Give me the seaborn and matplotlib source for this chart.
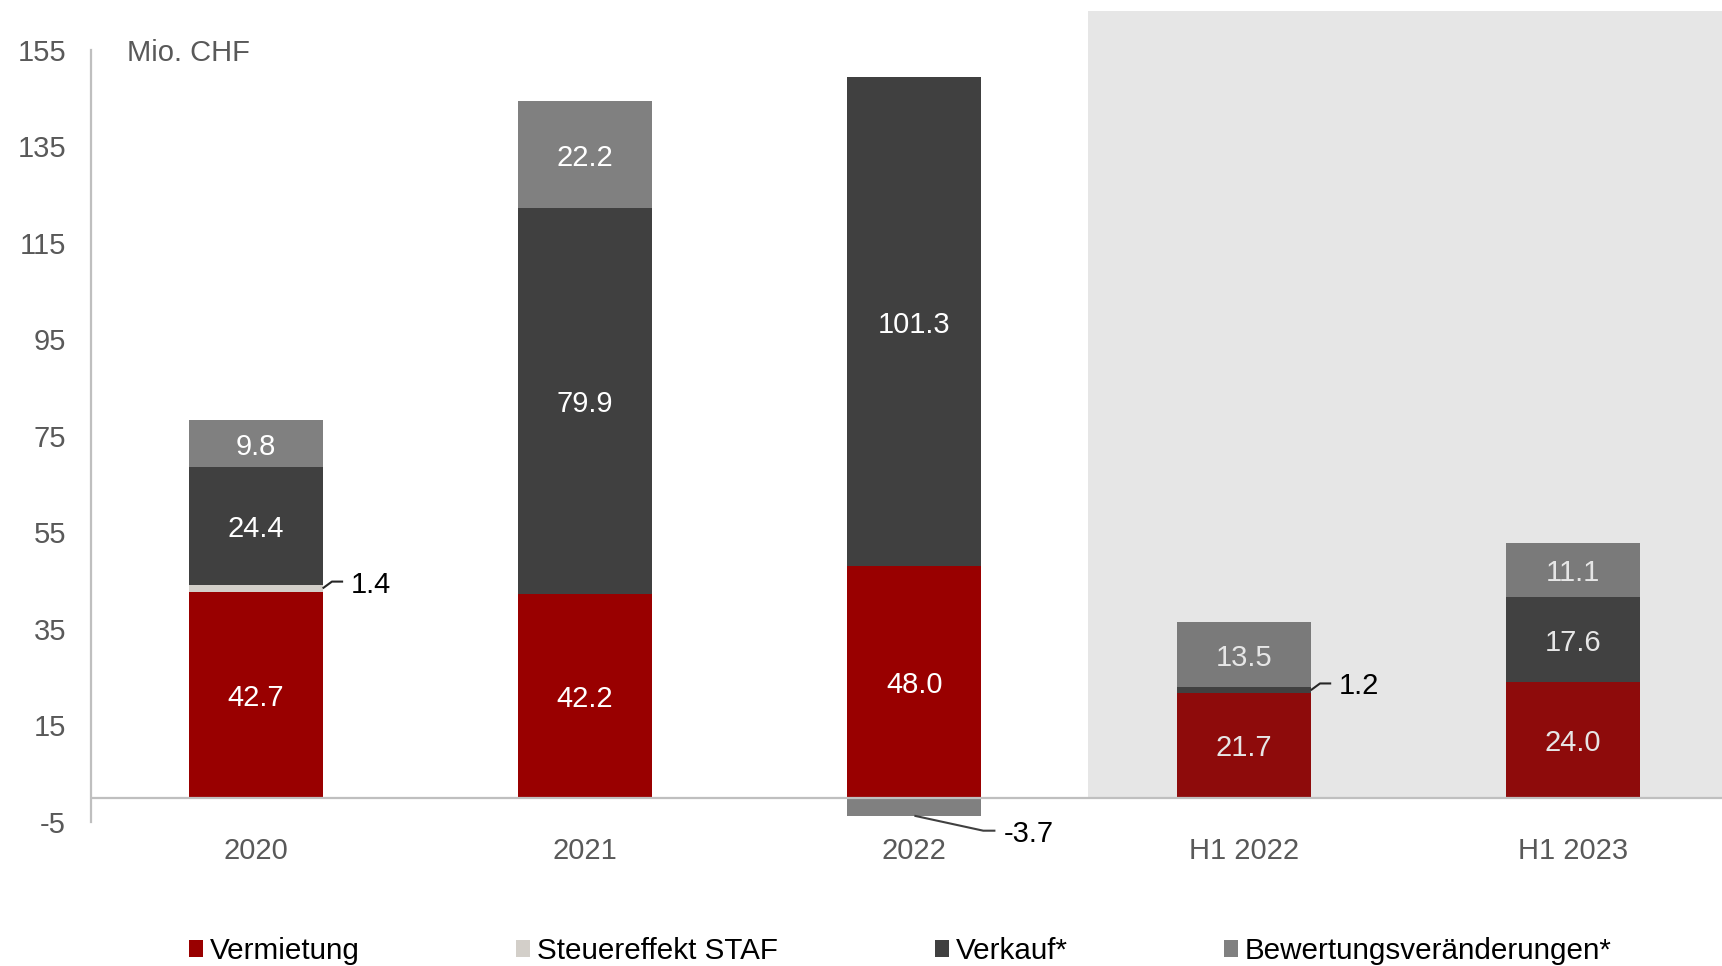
import numpy as np
import pandas as pd
import matplotlib
matplotlib.use("Agg")
import matplotlib.pyplot as plt
from matplotlib.patches import Patch, Rectangle
import seaborn as sns

# ---- data ----
categories = ["2020", "2021", "2022", "H1 2022", "H1 2023"]
vermietung = [42.7, 42.2, 48.0, 21.7, 24.0]
steuereffekt = [1.4, 0.0, 0.0, 0.0, 0.0]
verkauf = [24.4, 79.9, 101.3, 1.2, 17.6]
bewertung = [9.8, 22.2, -3.7, 13.5, 11.1]

layer_names = ["Vermietung", "Steuereffekt STAF", "Verkauf*", "Bewertungsveränderungen*"]
layer_values = [vermietung, steuereffekt, verkauf, bewertung]

y_ticks = [-5, 15, 35, 55, 75, 95, 115, 135, 155]
half_year = ["H1 2022", "H1 2023"]

# colours: full-year bars, half-year bars (on shaded panel)
colors_year = ["#990000", "#D3CFC9", "#404040", "#808080"]
colors_half = ["#8E0B0B", "#CFCBC5", "#414141", "#7A7A7A"]
label_year = "#FFFFFF"
label_half = "#E6E6E6"
axis_grey = "#BFBFBF"
text_grey = "#595959"
FS = 21

sns.set_theme(style="white")
plt.rcParams["font.family"] = ["Liberation Sans", "DejaVu Sans"]

fig = plt.figure(figsize=(17.22, 9.66), dpi=100)
ax = fig.add_axes([91 / 1722, 1 - 822 / 966, 1 - 91 / 1722, (822 - 11) / 966])

XMAX = 4.452
YMIN, YMAX = -5, 163
BAR_W = 0.407

# shaded panel behind the half-year results
ax.add_patch(Rectangle((2.528, 0), XMAX - 2.528, YMAX, facecolor="#E6E6E6",
                       edgecolor="none", zorder=0))

# stacked bars: positives build upward, negatives downward from zero
pos_base = np.zeros(len(categories))
neg_base = np.zeros(len(categories))
segments = []
for li, (name, vals) in enumerate(zip(layer_names, layer_values)):
    vals = np.asarray(vals, dtype=float)
    bottom = np.where(vals >= 0, pos_base, neg_base)
    df = pd.DataFrame({"Kategorie": categories, "Wert": vals})
    n_before = len(ax.patches)
    sns.barplot(data=df, x="Kategorie", y="Wert", order=categories,
                color=colors_year[li], saturation=1, errorbar=None,
                width=BAR_W, linewidth=0, bottom=bottom, ax=ax, zorder=2)
    bars = ax.patches[n_before:]
    for ci, bar in enumerate(bars):
        if categories[ci] in half_year:
            bar.set_facecolor(colors_half[li])
    for ci, v in enumerate(vals):
        if v != 0:
            segments.append((ci, li, v, bottom[ci]))
    pos_base = pos_base + np.where(vals >= 0, vals, 0)
    neg_base = neg_base + np.where(vals < 0, vals, 0)

# value labels
for ci, li, v, b in segments:
    mid = b + v / 2
    txt = f"{v:.1f}"
    if abs(v) >= 5:
        col = label_half if categories[ci] in half_year else label_year
        ax.text(ci, mid, txt, ha="center", va="center_baseline", fontsize=FS,
                color=col, zorder=4)
    elif v > 0:
        x0 = ci + BAR_W / 2
        ye = mid + 1.4
        ax.plot([x0, x0 + 0.028, x0 + 0.062], [mid, ye, ye], color="#262626",
                lw=1.5, solid_capstyle="butt", zorder=4, clip_on=False)
        ax.text(x0 + 0.085, ye, txt, ha="left", va="center_baseline",
                fontsize=FS, color="#000000", zorder=4)
    else:
        yb = b + v
        ye = yb - 3.1
        ax.plot([ci, ci + 0.209, ci + 0.246], [yb, ye, ye], color="#404040",
                lw=1.5, solid_capstyle="butt", zorder=4, clip_on=False)
        ax.text(ci + 0.27, ye, txt, ha="left", va="center_baseline",
                fontsize=FS, color="#000000", zorder=4, clip_on=False)

# zero line and axis styling
ax.axhline(0, color=axis_grey, lw=1.6, zorder=3)
ax.set_xlim(-0.5, XMAX)
ax.set_ylim(YMIN, YMAX)
ax.set_yticks(y_ticks)
ax.set_yticklabels([str(t) for t in y_ticks])
ax.set_xticks(range(len(categories)))
ax.set_xticklabels(categories)
ax.set_xlabel("")
ax.set_ylabel("")
for side in ["top", "right", "bottom"]:
    ax.spines[side].set_visible(False)
ax.spines["left"].set_color(axis_grey)
ax.spines["left"].set_linewidth(1.6)
ax.spines["left"].set_bounds(-5, 155)
ax.tick_params(axis="y", length=0, pad=18, labelsize=FS, labelcolor=text_grey)
ax.tick_params(axis="x", length=0, pad=11, labelsize=FS, labelcolor=text_grey)
ax.set_facecolor("white")

ax.text(-0.39, 155, "Mio. CHF", ha="left", va="center_baseline", fontsize=FS,
        color=text_grey)

# legend entries placed along the bottom
legend_x = [189, 516, 935, 1224]
for name, col, lx in zip(layer_names, colors_year, legend_x):
    fig.legend(handles=[Patch(facecolor=col, edgecolor="none", label=name)],
               loc="center left", bbox_to_anchor=(lx / 1722, 1 - 951 / 966),
               frameon=False, fontsize=21.3, borderpad=0, borderaxespad=0,
               handlelength=0.46, handleheight=0.46, handletextpad=0.25,
               labelcolor="#000000")

fig.savefig("out.png", dpi=100)
